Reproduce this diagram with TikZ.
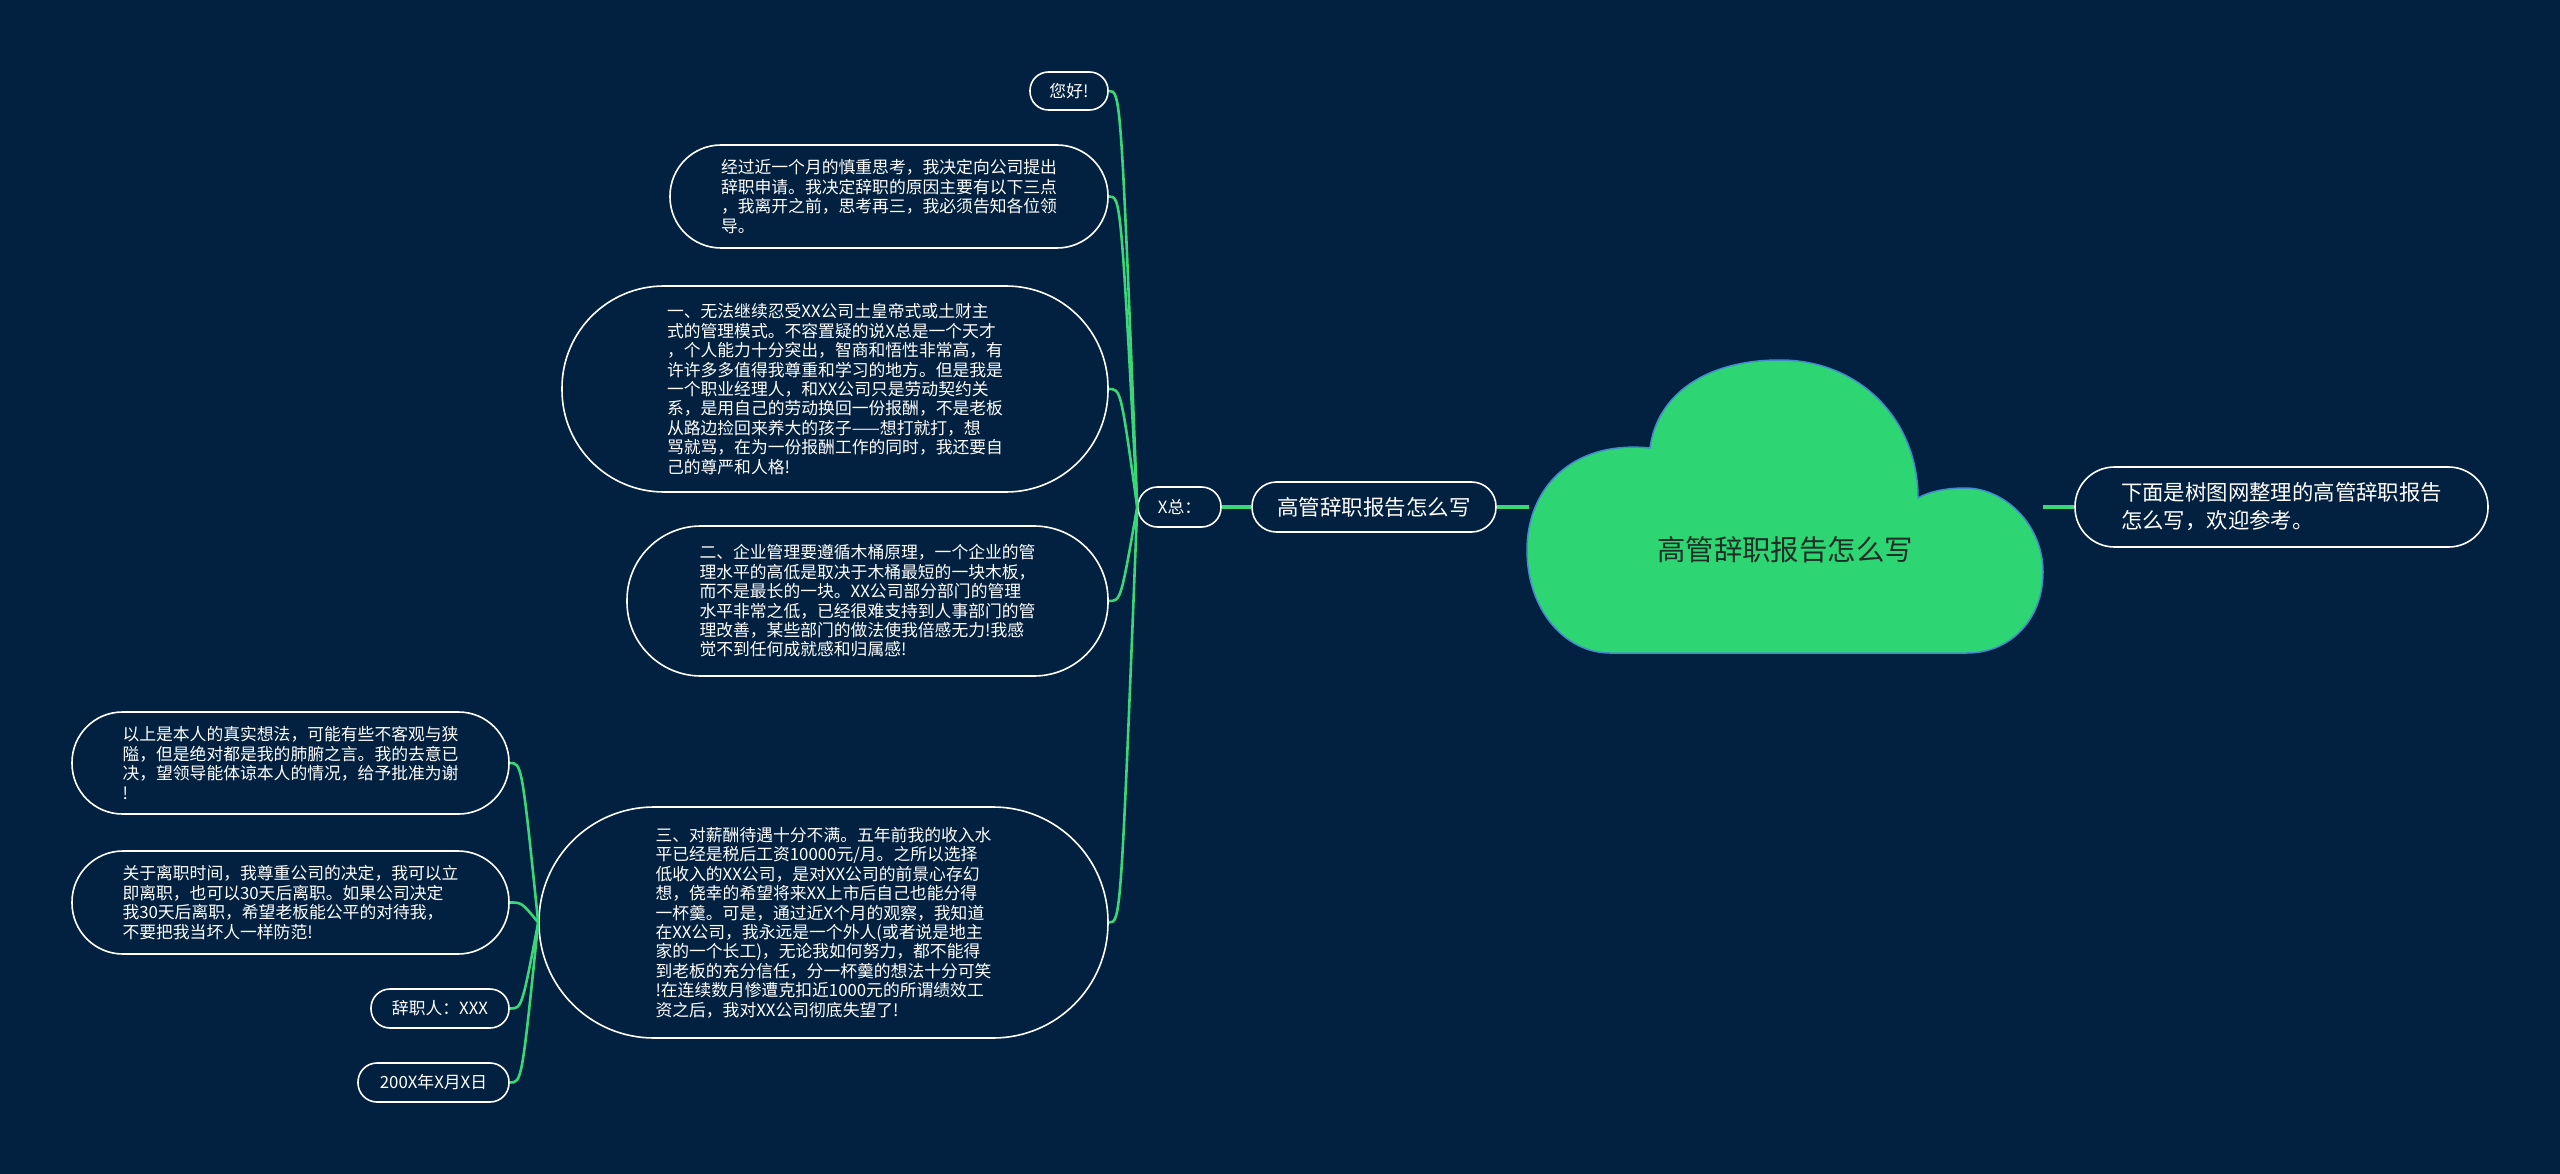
\documentclass[tikz,border=0pt]{standalone}
\usepackage{fontspec}
\setmainfont{Noto Sans CJK SC}
\usetikzlibrary{calc}
\definecolor{bg}{RGB}{2,33,64}
\definecolor{lnk}{RGB}{58,214,120}
\definecolor{cloudfill}{RGB}{46,213,115}
\definecolor{cloudedge}{RGB}{66,140,205}
\definecolor{roottext}{RGB}{28,46,37}
\newcommand\myfs[2]{\fontsize{#1}{#2}\selectfont}
\begin{document}
\begin{tikzpicture}[x=1pt,y=-1pt,
  pill/.style={draw=white, line width=1.6pt, text=white, inner sep=0pt, align=left, font=\myfs{16.8}{19.4}},
  conn/.style={draw=lnk, line width=2.6pt},
  mainln/.style={draw=lnk, line width=4pt}]
\useasboundingbox (0,0) rectangle (2560,1174);
\fill[bg] (0,0) rectangle (2560,1174);

% cloud (root)
\path[fill=cloudfill, draw=cloudedge, line width=1.5pt]
  (1610,653) -- (1967,653)
  .. controls (2010,653) and (2043,620) .. (2043,572)
  .. controls (2043,525) and (2005,488) .. (1965,488)
  .. controls (1945,488) and (1928,492) .. (1918,498)
  .. controls (1918,420) and (1860,360) .. (1780,360)
  .. controls (1705,360) and (1657,395) .. (1650,448)
  .. controls (1570,440) and (1527,490) .. (1527,550)
  .. controls (1527,610) and (1565,653) .. (1610,653) -- cycle;
\node[text=roottext, font=\myfs{28.4}{32}, inner sep=0pt] (root) at (1785,550) {高管辞职报告怎么写};
\coordinate (cloudL) at (1529,507);
\coordinate (cloudR) at (2043,507);

% right node
\node[pill, font=\myfs{21.4}{28}, minimum width=413pt, minimum height=80pt, rounded corners=39.5pt] (rt) at (2281.5,507)
  {下面是树图网整理的高管辞职报告\\怎么写，欢迎参考。};

% branch
\node[pill, font=\myfs{21.5}{24}, minimum width=244pt, minimum height=50pt, rounded corners=24.5pt] (br) at (1374,507) {高管辞职报告怎么写};
\node[pill, minimum width=83pt, minimum height=40pt, rounded corners=19.5pt] (xz) at (1179.5,507) {X总：};

% children of X总
\node[pill, minimum width=78pt, minimum height=38pt, rounded corners=18.5pt] (hello) at (1069,91) {您好!};
\node[pill, minimum width=438pt, minimum height=103pt, rounded corners=51pt] (jg) at (889,196.5)
  {经过近一个月的慎重思考，我决定向公司提出\\辞职申请。我决定辞职的原因主要有以下三点\\，我离开之前，思考再三，我必须告知各位领\\导。};
\node[pill, minimum width=546pt, minimum height=206pt, rounded corners=102pt] (n1) at (835,389)
  {一、无法继续忍受XX公司土皇帝式或土财主\\式的管理模式。不容置疑的说X总是一个天才\\，个人能力十分突出，智商和悟性非常高，有\\许许多多值得我尊重和学习的地方。但是我是\\一个职业经理人，和XX公司只是劳动契约关\\系，是用自己的劳动换回一份报酬，不是老板\\从路边捡回来养大的孩子——想打就打，想\\骂就骂，在为一份报酬工作的同时，我还要自\\己的尊严和人格!};
\node[pill, minimum width=481pt, minimum height=150pt, rounded corners=74pt] (n2) at (867.5,601)
  {二、企业管理要遵循木桶原理，一个企业的管\\理水平的高低是取决于木桶最短的一块木板，\\而不是最长的一块。XX公司部分部门的管理\\水平非常之低，已经很难支持到人事部门的管\\理改善，某些部门的做法使我倍感无力!我感\\觉不到任何成就感和归属感!};
\node[pill, minimum width=569pt, minimum height=231pt, rounded corners=115pt] (n3) at (823.5,922.5)
  {三、对薪酬待遇十分不满。五年前我的收入水\\平已经是税后工资10000元/月。之所以选择\\低收入的XX公司，是对XX公司的前景心存幻\\想，侥幸的希望将来XX上市后自己也能分得\\一杯羹。可是，通过近X个月的观察，我知道\\在XX公司，我永远是一个外人(或者说是地主\\家的一个长工)，无论我如何努力，都不能得\\到老板的充分信任，分一杯羹的想法十分可笑\\!在连续数月惨遭克扣近1000元的所谓绩效工\\资之后，我对XX公司彻底失望了!};

% children of 三
\node[pill, minimum width=437pt, minimum height=102pt, rounded corners=50.5pt] (ys) at (290.5,763)
  {以上是本人的真实想法，可能有些不客观与狭\\隘，但是绝对都是我的肺腑之言。我的去意已\\决，望领导能体谅本人的情况，给予批准为谢\\!};
\node[pill, minimum width=437pt, minimum height=103pt, rounded corners=51pt] (gy) at (290.5,902.5)
  {关于离职时间，我尊重公司的决定，我可以立\\即离职，也可以30天后离职。如果公司决定\\我30天后离职，希望老板能公平的对待我，\\不要把我当坏人一样防范!};
\node[pill, minimum width=138pt, minimum height=39pt, rounded corners=19pt] (czr) at (440,1008.5) {辞职人：XXX};
\node[pill, minimum width=151pt, minimum height=39pt, rounded corners=19pt] (dt) at (433.5,1082.5) {200X年X月X日};

% connectors
\draw[mainln] (cloudR) -- (rt.west);
\draw[mainln] (br.east) -- (cloudL);
\draw[mainln] (xz.east) -- (br.west);
\foreach \c in {hello,jg,n1,n2,n3}
  \draw[conn] (xz.west) .. controls ($(\c.east)+(12,0)$) .. (\c.east);
\foreach \c in {ys,gy,czr,dt}
  \draw[conn] (n3.west) .. controls ($(\c.east)+(12,0)$) .. (\c.east);
\end{tikzpicture}
\end{document}
